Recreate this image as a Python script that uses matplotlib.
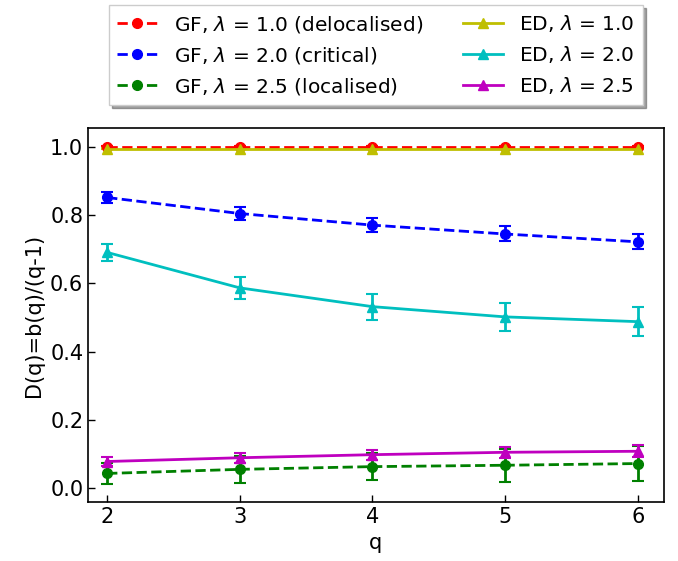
import numpy as np
import matplotlib
matplotlib.use("Agg")
import matplotlib.pyplot as plt

q = [2, 3, 4, 5, 6]

# GF results
gf_l1 = [1.0, 1.0, 1.0, 1.0, 1.0]
gf_l1_err = [0.003, 0.003, 0.003, 0.003, 0.003]
gf_l2 = [0.852, 0.805, 0.771, 0.745, 0.722]
gf_l2_err = [0.017, 0.018, 0.02, 0.022, 0.022]
gf_l25 = [0.043, 0.055, 0.063, 0.067, 0.072]
gf_l25_err = [0.032, 0.039, 0.04, 0.048, 0.05]

# ED results
ed_l1 = [0.995, 0.995, 0.995, 0.995, 0.995]
ed_l1_err = [0.002, 0.002, 0.002, 0.002, 0.002]
ed_l2 = [0.691, 0.587, 0.532, 0.502, 0.488]
ed_l2_err = [0.024, 0.032, 0.038, 0.041, 0.043]
ed_l25 = [0.078, 0.089, 0.098, 0.105, 0.108]
ed_l25_err = [0.012, 0.014, 0.015, 0.016, 0.018]

fig = plt.figure(figsize=(6.78, 5.61), dpi=100)
ax = fig.add_axes([0.130, 0.105, 0.849, 0.667])

kw = dict(capsize=4, markersize=7, linewidth=2, elinewidth=2, capthick=1.5)
series = [
    (gf_l1, gf_l1_err, "--o", "r", r"GF, $\lambda$ = 1.0 (delocalised)"),
    (gf_l2, gf_l2_err, "--o", "b", r"GF, $\lambda$ = 2.0 (critical)"),
    (gf_l25, gf_l25_err, "--o", "g", r"GF, $\lambda$ = 2.5 (localised)"),
    (ed_l1, ed_l1_err, "-^", "y", r"ED, $\lambda$ = 1.0"),
    (ed_l2, ed_l2_err, "-^", "c", r"ED, $\lambda$ = 2.0"),
    (ed_l25, ed_l25_err, "-^", "m", r"ED, $\lambda$ = 2.5"),
]
handles = []
labels = []
for y, e, fmt, c, lab in series:
    cont = ax.errorbar(q, y, yerr=e, fmt=fmt, color=c, **kw)
    handles.append(cont[0])
    labels.append(lab)

ax.set_xlim(1.857, 6.196)
ax.set_ylim(-0.041, 1.056)
ax.set_xticks(q)
ax.set_yticks([0.0, 0.2, 0.4, 0.6, 0.8, 1.0])
ax.tick_params(direction="in", labelsize=15, length=5, width=1)
ax.set_xlabel("q", fontsize=15)
ax.set_ylabel("D(q)=b(q)/(q-1)", fontsize=15)
for s in ax.spines.values():
    s.set_linewidth(1.2)

ax.legend(handles, labels, ncol=2, loc="lower center",
          bbox_to_anchor=(0.5, 1.035), fontsize=14.5, shadow=True,
          fancybox=False, framealpha=1, edgecolor="#cccccc",
          columnspacing=2.0)

fig.savefig("out.png", dpi=100)
